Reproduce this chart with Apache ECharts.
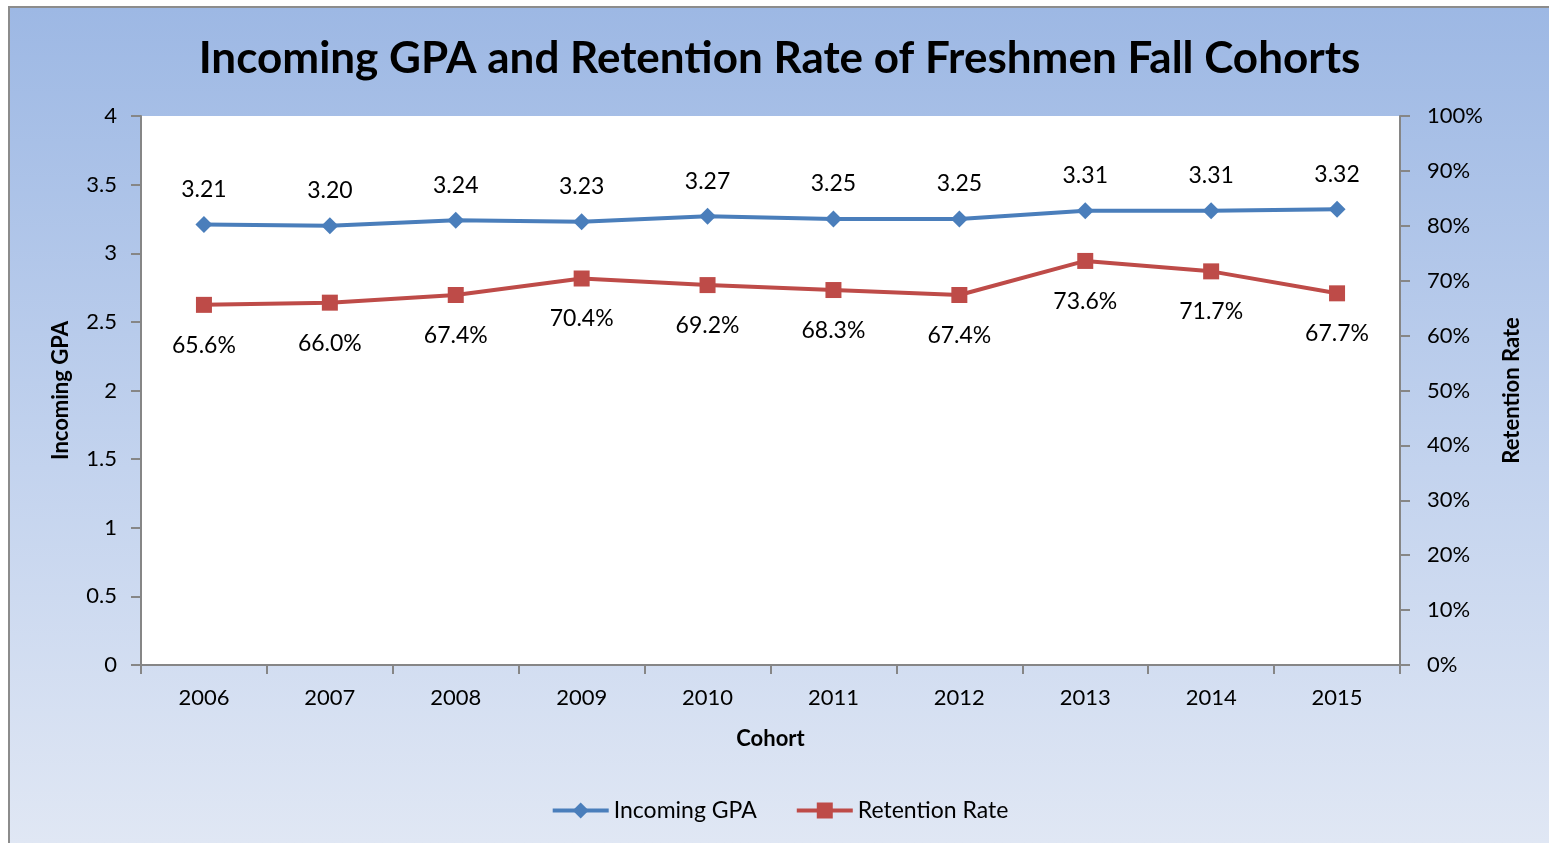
<!DOCTYPE html>
<html>
<head>
<meta charset="utf-8">
<script src="https://cdn.jsdelivr.net/npm/echarts@6/dist/echarts.min.js"></script>
<style>
  html, body { margin: 0; padding: 0; background: #fff; overflow: hidden; }
  #chart {
    position: absolute;
    left: 8px;
    top: 6px;
    width: 1541px;
    height: 837px;
    box-sizing: border-box;
    border-left: 2px solid #8c8c8c;
    border-top: 2px solid #8c8c8c;
    background: linear-gradient(to bottom, #9db8e4 0%, #c3d3ee 55%, #e0e7f4 100%);
  }
</style>
</head>
<body>
<div id="chart"></div>
<script>
const cohorts = ['2006', '2007', '2008', '2009', '2010', '2011', '2012', '2013', '2014', '2015'];
const incomingGpa = [3.21, 3.20, 3.24, 3.23, 3.27, 3.25, 3.25, 3.31, 3.31, 3.32];
const retentionRate = [65.6, 66.0, 67.4, 70.4, 69.2, 68.3, 67.4, 73.6, 71.7, 67.7];

const FONT = 'Lato';
const axisGrey = '#868686';

const chart = echarts.init(document.getElementById('chart'), null, { renderer: 'canvas' });

const option = {
  backgroundColor: 'transparent',
  textStyle: { fontFamily: FONT, color: '#000' },
  title: {
    text: 'Incoming GPA and Retention Rate of Freshmen Fall Cohorts',
    left: 'center',
    top: 24,
    textStyle: { fontFamily: FONT, fontSize: 44, fontWeight: 'bold', color: '#000' }
  },
  legend: {
    bottom: 16,
    left: 'center',
    itemWidth: 56,
    itemHeight: 20,
    itemGap: 38,
    lineStyle: { width: 4 },
    textStyle: { fontFamily: FONT, fontSize: 23, color: '#000' },
    data: ['Incoming GPA', 'Retention Rate']
  },
  grid: {
    show: true,
    backgroundColor: '#ffffff',
    borderWidth: 0,
    left: 131,
    right: 149,
    top: 108,
    bottom: 178
  },
  xAxis: {
    type: 'category',
    data: cohorts,
    boundaryGap: true,
    name: 'Cohort',
    nameLocation: 'middle',
    nameGap: 63,
    nameTextStyle: { fontFamily: FONT, fontSize: 22, fontWeight: 'bold', color: '#000' },
    axisLine: { lineStyle: { color: axisGrey, width: 2 } },
    axisTick: { show: true, interval: 0, length: 9, lineStyle: { color: axisGrey, width: 2 } },
    axisLabel: { fontFamily: FONT, fontSize: 22, color: '#000', margin: 22 },
    splitLine: { show: false }
  },
  yAxis: [
    {
      type: 'value',
      min: 0,
      max: 4,
      interval: 0.5,
      name: 'Incoming GPA',
      nameLocation: 'middle',
      nameGap: 69,
      nameRotate: 90,
      nameTextStyle: { fontFamily: FONT, fontSize: 22, fontWeight: 'bold', color: '#000' },
      axisLine: { show: true, lineStyle: { color: axisGrey, width: 2 } },
      axisTick: { show: true, length: 10, lineStyle: { color: axisGrey, width: 2 } },
      axisLabel: { fontFamily: FONT, fontSize: 22, color: '#000', margin: 24 },
      splitLine: { show: false }
    },
    {
      type: 'value',
      min: 0,
      max: 100,
      interval: 10,
      position: 'right',
      name: 'Retention Rate',
      nameLocation: 'middle',
      nameGap: 101,
      nameRotate: 90,
      nameTextStyle: { fontFamily: FONT, fontSize: 22, fontWeight: 'bold', color: '#000' },
      axisLine: { show: true, lineStyle: { color: axisGrey, width: 2 } },
      axisTick: { show: true, length: 10, lineStyle: { color: axisGrey, width: 2 } },
      axisLabel: { fontFamily: FONT, fontSize: 22, color: '#000', margin: 27, formatter: '{value}%' },
      splitLine: { show: false }
    }
  ],
  series: [
    {
      name: 'Incoming GPA',
      type: 'line',
      yAxisIndex: 0,
      data: incomingGpa,
      symbol: 'diamond',
      symbolSize: 17,
      lineStyle: { color: '#4a7ebb', width: 4 },
      itemStyle: { color: '#4a7ebb' },
      label: {
        show: true,
        position: 'top',
        distance: 15,
        fontFamily: FONT,
        fontSize: 23,
        color: '#000',
        formatter: p => p.value.toFixed(2)
      },
      animation: false
    },
    {
      name: 'Retention Rate',
      type: 'line',
      yAxisIndex: 1,
      data: retentionRate,
      symbol: 'rect',
      symbolSize: 16,
      lineStyle: { color: '#be4b48', width: 4 },
      itemStyle: { color: '#be4b48' },
      label: {
        show: true,
        position: 'bottom',
        distance: 21,
        fontFamily: FONT,
        fontSize: 23,
        color: '#000',
        formatter: p => p.value.toFixed(1) + '%'
      },
      animation: false
    }
  ]
};

chart.setOption(option);
</script>
</body>
</html>
